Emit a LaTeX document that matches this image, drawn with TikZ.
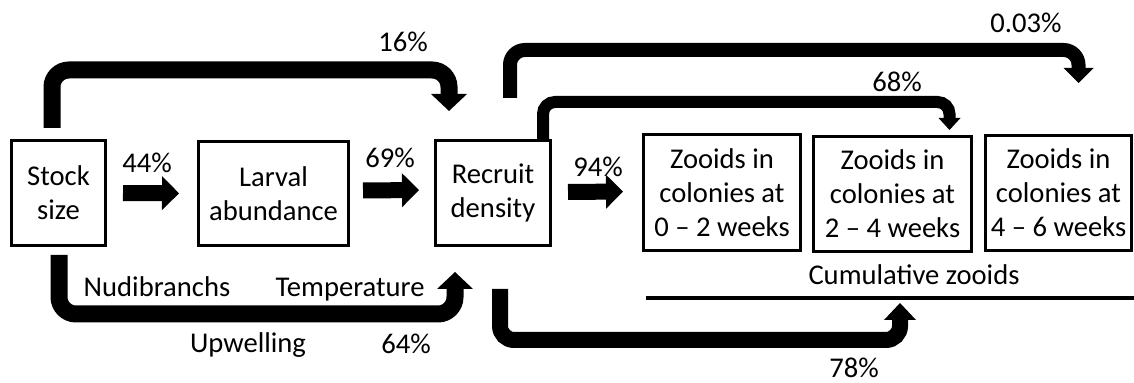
\documentclass[tikz,border=0pt]{standalone}
\usepackage{fontspec}
\setmainfont{Carlito}
\usetikzlibrary{arrows.meta}

\begin{document}
\begin{tikzpicture}[x=0.5pt,y=-0.5pt,
    every node/.style={font=\fontsize{14.3}{17}\selectfont},
    box/.style={draw, line width=1.5pt, align=center, inner sep=0pt},
    pct/.style={anchor=base},
    flow/.style n args={3}{line width=#1, -{Triangle[width=#2,length=#3,line width=0pt]}}]
    \useasboundingbox (0,0) rectangle (1134,383);

    % Define the boxes
    \node [box, minimum width=47pt, minimum height=52.5pt] (stock) at (58.5,193) {Stock\\size};
    \node [box, minimum width=75pt, minimum height=52pt] (larval) at (273.5,193.5) {Larval\\abundance};
    \node [box, minimum width=57.5pt, minimum height=52.5pt] (recruit) at (493,193) {Recruit\\density};
    \node [box, minimum width=78.5pt, minimum height=58pt] (zooidsA) at (722,192.5) {Zooids in\\colonies at\\0 -- 2 weeks};
    \node [box, minimum width=79pt, minimum height=57.5pt] (zooidsB) at (892.5,194) {Zooids in\\colonies at\\2 -- 4 weeks};
    \node [box, minimum width=73pt, minimum height=57.5pt] (zooidsC) at (1058.5,193) {Zooids in\\colonies at\\4 -- 6 weeks};

    % Cumulative zooids line
    \coordinate (cumL) at (646,298);
    \coordinate (cumR) at (1134,298);
    \coordinate (cumtip) at (900,303);
    \draw [line width=2pt] (cumL) -- (cumR);
    \node [pct] (cumtext) at (914,285) {Cumulative zooids};

    % Draw the straight arrows
    \draw [flow={8pt}{17pt}{8.5pt}, shorten <=8pt, shorten >=9pt] (stock) -- (larval);
    \draw [flow={8pt}{17pt}{8.5pt}, shorten <=6.5pt, shorten >=7.5pt] ([yshift=1.5pt]larval.east) -- ([yshift=1.5pt]recruit.west);
    \draw [flow={8pt}{17pt}{8.5pt}, shorten <=8pt, shorten >=9.5pt] ([yshift=0.5pt]recruit.east) -- ([yshift=0.5pt]zooidsA.west);

    % Draw the bent arrows
    \draw [flow={8.5pt}{18pt}{8.5pt}, rounded corners=8.5pt] ([xshift=-3.25pt,yshift=5.5pt]stock.north) -- ++(0,-58) -| ([xshift=-22pt,yshift=14pt]recruit.north);
    \draw [flow={8.5pt}{18pt}{8.5pt}, rounded corners=8.5pt] ([xshift=0.25pt,yshift=-4pt]stock.south) -- ++(0,59) -| ([xshift=-19pt,yshift=-12.5pt]recruit.south);
    \draw [flow={7pt}{15pt}{7.5pt}, rounded corners=7.5pt] ([xshift=8.5pt,yshift=20.5pt]recruit.north) -- ++(0,-48) -| ([xshift=10pt,yshift=25.5pt]zooidsC.north);
    \draw [flow={6pt}{11pt}{6pt}, rounded corners=6pt] ([xshift=25pt]recruit.north) -- ++(0,-37) -| ([xshift=28.5pt,yshift=2.5pt]zooidsB.north);
    \draw [flow={8pt}{16pt}{8.5pt}, rounded corners=7pt] ([xshift=3.5pt,yshift=-21pt]recruit.south) -- ++(0,51) -| (cumtip);

    % Label the arrows
    \node [pct] (p44) at (147,173) {44\%};
    \node [pct] (p69) at (390,168) {69\%};
    \node [pct] (p94) at (598,177) {94\%};
    \node [pct] (p16) at (403,52) {16\%};
    \node [pct] (p64) at (406,354) {64\%};
    \node [pct] (p003) at (1026,33) {0.03\%};
    \node [pct] (p68) at (897,92) {68\%};
    \node [pct] (p78) at (854,378) {78\%};
    \node [pct] (nudi) at (157,297) {Nudibranchs};
    \node [pct] (temp) at (350,297) {Temperature};
    \node [pct] (upw) at (248,353) {Upwelling};

\end{tikzpicture}
\end{document}
